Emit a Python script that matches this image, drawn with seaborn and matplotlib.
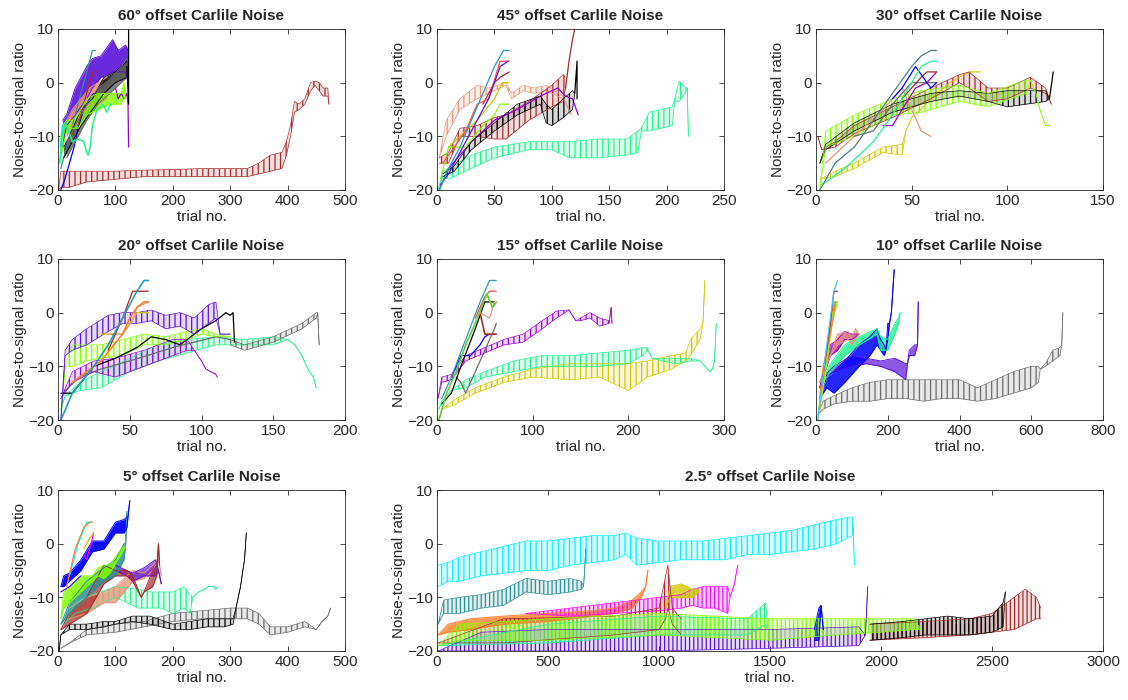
import matplotlib
matplotlib.use("Agg")
import matplotlib.pyplot as plt
import seaborn as sns

# ---------------- data ----------------
# 60 deg
p60_brown_x = [1, 5, 20, 50, 100, 150, 200, 250, 300, 330, 350, 370, 390, 398, 405, 412, 420, 430, 440, 448, 455, 462, 470, 472]
p60_brown_lo = [-20, -19.5, -19.5, -18.5, -18, -17.5, -17.5, -17.5, -17.5, -17.5, -17, -16.5, -16, -13.5, -10, -5.5, -5, -4, -1.5, -0.5, -1.5, -2.5, -2.5, -4]
p60_brown_hi = [-20, -16.5, -16.5, -16.5, -16.5, -16.3, -16.2, -16, -16, -16, -15, -13.5, -13, -11, -8, -3.5, -4, -3, 0, 0.3, 0, -1, -1, -4]
p60_violet_x = [8, 15, 30, 50, 60, 75, 95, 105, 118, 122]
p60_violet_lo = [-12, -8, -6, -3, -1, 1, 2, 2, 2, 0]
p60_violet_hi = [-7, -6, -1, 3, 4.5, 5, 8, 6, 7, 6]
p60_black_x = [10, 20, 40, 60, 80, 100, 120]
p60_black_lo = [-14, -12, -8, -5, -2, 0, 1]
p60_black_hi = [-12, -10, -5, -3, 1, 2, 4]
p60_blackv_x = [120, 123, 123]
p60_blackv_y = [3, -4, 10]
p60_gray_x = [15, 30, 50, 70, 90, 110, 120]
p60_gray_lo = [-14, -11, -7, -4, -2, 0, 1]
p60_gray_hi = [-11, -8, -4, -1, 0.5, 3, 4.5]
p60_salmon_x = [15, 25, 40, 55, 70, 85]
p60_salmon_lo = [-10, -8, -6, -4, -4, -3]
p60_salmon_hi = [-7, -5, -3, -1, 0, 1]
p60_lime_x = [3, 8, 15, 25, 35, 50, 70, 90, 110, 115, 117]
p60_lime_lo = [-15, -12, -9, -8.5, -8.5, -6, -5, -4, -4, -2, -3]
p60_lime_hi = [-11, -8, -7, -7, -6, -3, -2, -2, -2, 0, -3]
p60_spring_x = [3, 8, 15, 25, 35, 45, 50, 53, 56, 60, 68, 78, 85, 92]
p60_spring_y = [-15, -9, -8, -11, -10.5, -11, -13, -13.5, -12, -8, -5, -4, -5.5, -4]
p60_blue_x = [5, 12, 20, 28, 36, 45, 55, 62]
p60_blue_y = [-20, -18, -15, -12, -8, -5, -3, -2]
p60_teal_x = [5, 15, 25, 35, 45, 55, 60, 65]
p60_teal_y = [-16, -12, -8, -4, 0, 4, 6, 6]
p60_purple_x = [100, 105, 110, 115, 120, 122, 123]
p60_purple_y = [-1, -3, -2, -3, -2, -4, -12]
p60_red_x = [35, 45, 55, 62, 68]
p60_red_y = [-8, -4, 0, 2, 2]
p60_cyan_x = [4, 8, 12]
p60_cyan_y = [-12, -8, -7.5]

# 45 deg
p45_spring_x = [1, 5, 10, 30, 50, 80, 100, 115, 140, 165, 175, 178, 185, 205, 207, 211, 216, 218, 219]
p45_spring_lo = [-20, -17.5, -18, -16, -14, -12.5, -12.5, -14, -14, -13.5, -13, -9, -9, -8, -3.5, -3.5, -2, -1, -10]
p45_spring_hi = [-20, -16.5, -16, -13.5, -12, -11, -11, -11, -10.5, -10.5, -9, -8.5, -5.5, -4.5, -3, 0.3, -0.8, -1, -10]
p45_brown_x = [2, 10, 20, 35, 50, 60, 80, 100, 110, 112]
p45_brown_lo = [-15, -15, -10, -10, -10.5, -10.5, -7, -4.5, -3.5, -1]
p45_brown_hi = [-14, -13, -8.5, -8, -6.5, -6, -3.5, -0.5, 1.5, 1]
p45_brownup_x = [112, 115, 118, 120]
p45_brownup_y = [-1, 4, 8, 10]
p45_black_x = [5, 15, 30, 50, 70, 90, 95, 100, 110, 118, 120]
p45_black_lo = [-17.5, -16.5, -12.5, -9, -6, -4, -7.5, -8, -6.5, -5, -2]
p45_black_hi = [-17, -15.5, -11, -7.5, -4, -2.5, -4, -5, -3, -1.5, -2]
p45_blackup_x = [120, 122, 122]
p45_blackup_y = [-2, 4, -3]
p45_salmon_x = [2, 8, 20, 35, 45, 60, 65, 75, 85, 95, 110, 117]
p45_salmon_lo = [-14, -10, -5, -3, -2, -0.5, -3, -1.5, -2, -1.5, -3, -6]
p45_salmon_hi = [-14, -7, -3, -0.5, -1, 0, -2, -0.5, -1, -0.5, -2.5, -6]
p45_teal_x = [2, 10, 20, 30, 40, 50, 58, 63]
p45_teal_y = [-20, -16, -12, -7, -2, 3, 6, 6]
p45_blue_x = [3, 10, 20, 30, 45, 55, 62]
p45_blue_y = [-19, -17, -13, -9, -3, 3, 4]
p45_red_x = [5, 15, 25, 35, 45, 55, 63]
p45_red_y = [-15, -12, -9, -4, -3, 4, 4]
p45_darkred_x = [40, 50, 55, 63]
p45_darkred_y = [-4, 0, 1, 2]
p45_olive_x = [10, 20, 35, 50, 57, 63]
p45_olive_y = [-12, -10, -7, -3, 0, 0]
p45_lime_x = [3, 10, 25, 40, 50, 55, 63]
p45_lime_y = [-18, -12, -12, -8, -6, -4, -4]
p45_purple_x = [2, 10, 30, 50, 70, 90, 105, 112, 118, 123]
p45_purple_y = [-20, -16, -11, -7, -5, -2.5, -1, -2.5, -3, -6]

# 30 deg
p30_brown_x = [1, 3, 10, 20, 40, 60, 75, 80, 90, 100, 112, 120, 123]
p30_brown_lo = [-10, -12.5, -12, -9.5, -6.5, -3, 0, -1, -3.5, -3, -1, -2, -4]
p30_brown_hi = [-10, -12.5, -11, -8, -4.5, -1, 1.5, 2, -1, -1, 1, -1, -4]
p30_lime_x = [2, 5, 20, 40, 55, 75, 90, 110, 112, 115, 117, 120, 122]
p30_lime_lo = [-20, -12, -10, -6, -5.5, -3.5, -4.5, -2, 0.5, -2, -5, -8, -8]
p30_lime_hi = [-20, -9, -6, -3, -1.5, -0.5, -2, 0.5, 0.5, -2, -5, -8, -8]
p30_black_x = [2, 5, 20, 40, 60, 75, 90, 100, 120, 122]
p30_black_lo = [-15, -12.5, -9, -5.5, -3.5, -2.5, -3.5, -4.5, -3.5, -3]
p30_black_hi = [-15, -11.5, -7.5, -4, -2, -1.5, -2, -1.5, -1.5, -3]
p30_blackup_x = [122, 124]
p30_blackup_y = [-3, 2]
p30_yellow_x = [2, 10, 20, 35, 45, 47, 50, 55, 60, 70, 80, 86]
p30_yellow_lo = [-18, -17.5, -16, -13, -13.5, -9, -6.5, -5, -3, 0, 2, 2]
p30_yellow_hi = [-18, -16.5, -15, -12, -11.5, -9, -6.5, -5, -3, 0, 2, 2]
p30_grayteal_x = [2, 10, 20, 30, 40, 50, 55, 60, 63]
p30_grayteal_y = [-20, -15, -12, -7, -2, 3, 5, 6, 6]
p30_spring_x = [3, 15, 30, 40, 50, 55, 60, 63]
p30_spring_y = [-19, -16, -11, -6, 0, 3, 4, 4]
p30_blue_x = [40, 45, 52, 56, 60, 63]
p30_blue_y = [-3, -1, 3, 1, -1, 0]
p30_darkred_x = [45, 55, 58, 63]
p30_darkred_y = [-3, 1, 2, 2]
p30_purple_x = [35, 40, 45, 52, 58, 63]
p30_purple_y = [-8, -8, -5, -1, 0, 2]
p30_salmon_x = [5, 20, 35, 45, 50, 55, 60]
p30_salmon_y = [-15, -10, -5, -1, -5, -9, -10]
p30_gray_x = [20, 30, 40, 50, 63]
p30_gray_y = [-10, -9, -4, 0, 0]

# 20 deg
p20_violet_x = [2, 5, 10, 20, 35, 45, 55, 65, 75, 85, 95, 105, 110, 113, 120]
p20_violet_lo = [-20, -8, -7, -6, -3.5, -2, -2, -1.5, -3, -2.5, -4, -2, -1, -4, -4]
p20_violet_hi = [-20, -7, -5, -3, -0.5, 0, 0, 0.5, -0.5, 0, -1, 1.5, 2, -4, -4]
p20_black_x = [2, 10, 25, 40, 55, 65, 75, 85, 100, 110, 117, 120, 122, 123]
p20_black_y = [-15, -15, -10, -8.5, -6.5, -4.5, -5, -6, -3, -1.5, 0, -0.5, 0, -5.5]
p20_gray_x = [120, 130, 150, 170, 180, 181, 182]
p20_gray_lo = [-6, -7, -5.5, -3, -1, 0, -6]
p20_gray_hi = [-5, -6, -4.5, -2, 0, 0, -6]
p20_gray2_x = [3, 15, 30, 50, 80, 110, 120]
p20_gray2_y = [-15, -12, -10.5, -9, -6.5, -4.5, -5]
p20_spring_x = [2, 5, 15, 30, 50, 70, 90, 110, 130, 150, 160, 165, 170, 175, 178, 180]
p20_spring_lo = [-18, -15.5, -14.5, -14, -11, -9, -7.5, -6, -6, -6, -5, -6, -8, -11, -12, -14]
p20_spring_hi = [-18, -15.5, -13, -11, -8.5, -6, -5, -4.5, -5, -4.5, -5, -6, -8, -11, -12, -14]
p20_lime_x = [2, 5, 10, 20, 30, 45, 60, 75, 90, 100, 110, 120]
p20_lime_lo = [-20, -10, -10, -9, -8.5, -8, -6, -6, -5, -4, -4.5, -4.5]
p20_lime_hi = [-20, -10, -6, -6, -6, -5, -4, -4.5, -3.5, -3, -4, -4.5]
p20_purple_x = [2, 10, 25, 40, 60, 80, 90, 95, 100, 103, 110, 111]
p20_purple_lo = [-16, -13, -11, -12, -10, -8, -7, -7, -9, -10.5, -11.5, -12]
p20_purple_hi = [-16, -11, -9, -8.5, -7, -5, -5, -7, -9, -10.5, -11.5, -12]
p20_steel_x = [2, 10, 25, 35, 45, 55, 60, 63]
p20_steel_y = [-20, -15, -10, -6, -1, 4, 6, 6]
p20_orange_x = [10, 20, 30, 45, 50, 55, 60, 63]
p20_orange_y = [-13, -11, -9, -4, -1, 1, 2, 2]
p20_brown_x = [35, 45, 52, 63]
p20_brown_y = [-7, -1, 4, 4]
p20_salmon_x = [35, 45, 52, 55, 63]
p20_salmon_y = [-4, -4, -1.5, 1, 2]
p20_yellow_x = [30, 45, 55, 63]
p20_yellow_y = [-4, -4, 0, 0]

# 15 deg
p15_purple_x = [1, 5, 15, 30, 50, 70, 90, 110, 125, 138, 145, 150, 160, 170, 180, 182, 183]
p15_purple_lo = [-16, -13, -12.5, -9, -7.5, -6, -5.5, -3, -1, 0.5, -1.5, -1.5, -1, -2.5, -2, 1, -2]
p15_purple_hi = [-16, -12, -11.5, -8, -6.5, -5, -4, -1.5, 0.3, 0.5, -1.5, -1, 0, -1, -1.5, 1, -2]
p15_spring_x = [2, 5, 15, 30, 50, 80, 110, 140, 170, 200, 215, 220, 225, 235, 250, 265, 275, 280, 285, 288, 290, 292]
p15_spring_lo = [-18, -16.5, -14.5, -14, -12, -11, -10, -10, -10, -9.5, -8, -7, -8.5, -9, -9.5, -9, -9, -10, -11, -10.5, -9, -2]
p15_spring_hi = [-18, -16.5, -14.5, -12.5, -11, -9, -8, -8, -7.5, -7, -6.5, -6.5, -8.5, -8.5, -8.5, -8.5, -9, -10, -11, -10.5, -9, -2]
p15_yellow_x = [2, 5, 20, 40, 70, 100, 140, 170, 200, 220, 245, 260, 265, 275, 278, 280]
p15_yellow_lo = [-20, -18, -17, -15, -13, -12, -12.5, -12, -14.5, -12, -10.5, -9, -8, -5, -2, 6]
p15_yellow_hi = [-20, -18, -16, -14, -12, -10.5, -9.5, -9.5, -9.5, -9, -8, -7.5, -5, -3, -2, 6]
p15_green_x = [2, 10, 20, 30, 40, 52, 58, 62]
p15_green_y = [-20, -15, -11, -6, -2, 3.5, 1, 2]
p15_teal_x = [5, 15, 30, 45, 55, 62]
p15_teal_y = [-16, -12, -5, 2, 6, 6]
p15_salmon_x = [40, 50, 55, 62]
p15_salmon_y = [-1, 3, 4, 4]
p15_black_x = [5, 15, 25, 40, 50, 55, 60]
p15_black_y = [-17, -15, -10, -3, 2, 2, 2]
p15_blue_x = [15, 25, 35, 45, 50, 55]
p15_blue_y = [-12, -8, -8, -6, -4.5, -4]
p15_gray_x = [20, 25, 30, 40, 50, 60, 62]
p15_gray_y = [-12, -13, -15, -11, -7, -3, -2]
p15_brown_x = [45, 50, 55, 62]
p15_brown_y = [0, -4, -4, -4]
p15_lsalmon_x = [45, 55, 60]
p15_lsalmon_y = [0, -1, 2]

# 10 deg
p10_gray_x = [5, 20, 50, 100, 150, 200, 250, 300, 350, 400, 450, 500, 550, 600, 620, 625, 640, 660, 680, 685, 688]
p10_gray_lo = [-19, -18, -17, -16.5, -16.5, -16, -16, -16.5, -16, -16, -16.5, -16, -15, -14, -13, -10.5, -10, -9, -8, -6, 0]
p10_gray_hi = [-19, -16.5, -15.5, -14, -13, -12.5, -12.5, -12.5, -12.5, -12.5, -14, -12.5, -11, -10, -10, -10.5, -9.5, -7, -6.5, -6, 0]
p10_blue_x = [10, 30, 50, 80, 120, 150, 170, 180, 190, 195, 200, 205, 210, 215, 218]
p10_blue_lo = [-16, -14, -15, -13, -10, -8, -6, -7, -8, -7, -5, -2, 0, 5, 8]
p10_blue_hi = [-16, -12, -11, -9, -6, -4.5, -3, -5, -6, -7, -2, -2, 0, 5, 8]
p10_violet_x = [20, 50, 100, 140, 180, 220, 250, 255, 260, 275, 283, 285]
p10_violet_lo = [-12, -11, -10, -9.5, -10, -11, -12.5, -9.5, -8, -8, -6, 2]
p10_violet_hi = [-12, -10, -8, -8.5, -9, -8.5, -9.5, -9.5, -7, -6, -6, 2]
p10_spring_x = [10, 40, 80, 120, 170, 180, 200, 220, 230, 235]
p10_spring_lo = [-14, -11, -8, -6, -4, -7, -7, -4, -2, 0]
p10_spring_hi = [-14, -9.5, -6, -4.5, -3, -4.5, -5, -2, -1, 0]
p10_salmon_x = [10, 40, 60, 90, 100, 110, 120]
p10_salmon_lo = [-13, -8, -6, -5, -6, -5, -4]
p10_salmon_hi = [-13, -8, -4, -3.5, -4.5, -3, -4]
p10_purple_x = [10, 40, 60, 80, 100, 120]
p10_purple_lo = [-14, -8, -7, -5, -5, -4]
p10_purple_hi = [-14, -6, -5, -3.5, -4, -4]
p10_cyan_x = [5, 30, 50, 60]
p10_cyan_y = [-20, -6, 4, 6]
p10_brown_x = [15, 40, 50, 60]
p10_brown_y = [-14, -2, 4, 4]
p10_orange_x = [10, 20, 40, 55]
p10_orange_y = [-16, -10, -4, 2]
p10_yellow_x = [10, 30, 50, 60]
p10_yellow_y = [-18, -8, 2, 2]
p10_teal_x = [8, 25, 45, 55]
p10_teal_y = [-18, -10, 0, 2]
p10_lime_x = [5, 25, 45, 60]
p10_lime_y = [-20, -12, -2, 2]

# 5 deg
p5_gray_x = [5, 20, 50, 100, 150, 200, 250, 300, 330, 350, 370, 400, 430, 450, 460, 470, 475]
p5_gray_lo = [-19.5, -18.5, -17, -16.5, -15.5, -14.5, -14, -14, -14, -15, -17, -16.5, -15.5, -16, -14.5, -13.5, -12]
p5_gray_hi = [-19.5, -18.5, -16, -15, -14.5, -13, -12.5, -12, -12, -13, -15.5, -15.5, -14.5, -16, -14.5, -13.5, -12]
p5_black_x = [2, 5, 20, 50, 80, 100, 130, 160, 200, 230, 260, 290, 305, 310, 318, 322, 325, 328]
p5_black_lo = [-20, -17, -16, -16, -15.5, -15, -14.5, -15, -16, -16, -15.5, -15.5, -15, -12, -8, -5, -3, 2]
p5_black_hi = [-20, -17, -15, -15, -14.5, -14.5, -13.5, -13.5, -15, -14.5, -14, -14, -14, -12, -8, -5, -3, 2]
p5_spring_x = [10, 30, 60, 100, 140, 160, 180, 200, 220, 230, 235, 245, 255, 262, 270, 275, 278]
p5_spring_lo = [-15, -13, -12, -10, -12, -12, -12, -13, -12, -13, -10, -9, -8.5, -8, -8, -8.5, -8]
p5_spring_hi = [-15, -11, -9.5, -8, -8.5, -9, -9, -9, -8, -9.5, -10, -9, -8.5, -8, -8, -8.5, -8]
p5_salmon_x = [20, 50, 80, 100, 130, 150, 165, 175, 180]
p5_salmon_lo = [-14, -13, -11, -11, -7, -6.5, -5, -3, -6]
p5_salmon_hi = [-12, -10, -9, -8, -5, -5.5, -4, -3, -6]
p5_brown_x = [5, 20, 50, 80, 100, 120, 130, 145, 150, 165, 172, 175, 177]
p5_brown_lo = [-16, -15, -13, -7.5, -6, -6, -7, -10, -9, -8, -6, 0, -4]
p5_brown_hi = [-16, -13, -10, -4, -5, -5, -6, -10, -9, -5, -4, 0, -4]
p5_violet_x = [100, 110, 120, 130, 150, 170, 175, 180]
p5_violet_lo = [-5, -5.5, -6, -7, -6, -6, -5, -7.5]
p5_violet_hi = [-4, -4.5, -5, -5.5, -4.5, -3, -5, -7.5]
p5_teal_x = [5, 20, 50, 80, 100, 115, 118, 120]
p5_teal_lo = [-15, -13, -10, -7, -6, -3, 0, 6]
p5_teal_hi = [-15, -11, -7, -4.5, -3, 0, 0, 6]
p5_lime_x = [5, 10, 20, 30, 40, 50, 60, 70, 80, 90, 110, 118]
p5_lime_lo = [-14, -12, -11, -10, -9, -8, -7, -6, -6.5, -5.5, -2, -0.5]
p5_lime_hi = [-14, -9, -8, -7, -6, -6, -6, -4.5, -4, -4, -1, -0.5]
p5_blue_x = [5, 10, 20, 40, 60, 80, 100, 115, 120, 122, 125]
p5_blue_lo = [-8, -8, -7, -5, -1.5, -1, 2, 2, 3, 5, 8]
p5_blue_hi = [-8, -6, -5.5, -3, 0.5, 0.5, 4, 4.5, 5, 5, 8]
p5_orange_x = [15, 30, 45, 55, 60]
p5_orange_y = [-8, -1, 3, 4, 4]
p5_cyan_x = [20, 35, 50, 58]
p5_cyan_y = [-6, 0, 4, 4]
p5_magenta_x = [45, 50, 55, 60, 62]
p5_magenta_y = [-2, -3, -1, 1, 2]
p5_yellow_x = [45, 55, 62]
p5_yellow_y = [-1, 1, 2]
p5_violet2_x = [5, 20, 40]
p5_violet2_y = [-9, -8, -6]

# 2.5 deg
p25_cyan_x = [5, 50, 100, 200, 300, 400, 500, 600, 700, 800, 850, 900, 1000, 1100, 1200, 1300, 1400, 1500, 1600, 1700, 1800, 1870, 1875, 1880]
p25_cyan_lo = [-8, -7, -7, -6, -5.5, -5, -5, -4, -3.5, -3, -2, -4, -3.5, -3, -3, -3, -2, -2, -1.5, -1, 0, 1.5, 3, -4]
p25_cyan_hi = [-4, -3.5, -2.5, -1.5, -0.5, 0.5, 0.5, 1, 1.5, 1.5, 2, 1, 0.5, 0.5, 0.5, 1, 1.5, 2, 2.5, 3.5, 4.5, 5, 3, -4]
p25_lime_x = [5, 100, 500, 1000, 1500, 1800, 2000, 2150, 2180]
p25_lime_lo = [-19, -18, -18, -17, -18, -17, -16.5, -16, -16]
p25_lime_hi = [-19, -15, -14, -13, -14, -14, -14, -14, -16]
p25_green_x = [5, 500, 1000, 1400, 1480, 1490]
p25_green_lo = [-19, -18.5, -17, -17, -15, -16]
p25_green_hi = [-19, -15, -13.5, -14, -11, -16]
p25_violet_x = [5, 200, 500, 1000, 1500, 1900, 1930, 1940]
p25_violet_lo = [-20, -20, -20, -20, -19.5, -19, -17, -8]
p25_violet_hi = [-20, -16.5, -16, -16, -16, -15.5, -17, -8]
p25_brown_x = [5, 300, 800, 1000, 1030, 1040, 1060, 1100]
p25_brown_lo = [-18.5, -18.5, -17, -16, -14, -12, -15, -17]
p25_brown_hi = [-18.5, -14, -13.5, -12, -6, -4, -12, -14]
p25_brown2_x = [1950, 2200, 2400, 2500, 2600, 2650, 2700, 2720]
p25_brown2_lo = [-18, -17.5, -17, -16.5, -16, -15, -14, -14]
p25_brown2_hi = [-15, -14.5, -14, -13, -10, -8.5, -10, -12]
p25_black_x = [1950, 2100, 2200, 2300, 2400, 2500, 2550, 2560]
p25_black_lo = [-18, -17.5, -17, -17, -17, -16.5, -15.5, -9]
p25_black_hi = [-15, -14.5, -14, -13.5, -14, -13.5, -11, -9]
p25_orange_x = [5, 50, 150, 300, 500, 700, 800, 880, 920, 940, 950]
p25_orange_lo = [-17, -16.5, -16, -15, -14.5, -13.5, -13, -12, -10, -8, -5]
p25_orange_hi = [-17, -15, -14, -13.5, -13, -12.5, -12, -10.5, -9, -8, -5]
p25_magenta_x = [400, 600, 800, 1000, 1100, 1150, 1200, 1250, 1310, 1320, 1340, 1350, 1355]
p25_magenta_lo = [-13, -13.5, -13, -12.5, -12, -11.5, -12, -12, -13, -10, -7.5, -5, -4]
p25_magenta_hi = [-13, -12, -11, -10, -9.5, -8.5, -8, -8, -8, -10, -7.5, -5, -4]
p25_teal_x = [5, 30, 100, 200, 300, 400, 500, 600, 650, 660, 665, 670]
p25_teal_lo = [-15, -13, -13, -12, -11.5, -9, -9.5, -9, -8.5, -8, -5, -1]
p25_teal_hi = [-15, -10.5, -10, -9.5, -8.5, -6.5, -7, -6.5, -7, -8, -5, -1]
p25_yellow_x = [1030, 1050, 1100, 1150, 1180]
p25_yellow_lo = [-12, -10, -10, -10, -9]
p25_yellow_hi = [-12, -8, -7.5, -8.5, -8.5]
p25_blue_x = [1700, 1720, 1730, 1740]
p25_blue_lo = [-18, -18, -11.5, -16]
p25_blue_hi = [-16, -12, -11.5, -16]

y_ticks = [-20, -10, 0, 10]

# ---------------- styles ----------------
BROWN = "#a52a2a"
VIOLET = "#5b12d9"
PURPLE = "#9a00d6"
BLACK = "#000000"
GRAY = "#6b6b6b"
SALMON = "#e9967a"
LIME = "#80ff00"
SPRING = "#1cf58c"
TEAL = "#2e8f95"
STEEL = "#2a9bc0"
CYAN = "#00f2ff"
BLUE = "#0000ff"
ORANGE = "#ff7f2a"
MAGENTA = "#ff00ff"
YELLOW = "#d2c800"
RED = "#ff4c4c"
GREEN = "#66cc33"
OLIVE = "#b5d000"

sns.set_theme(style="ticks")
plt.rcParams["font.family"] = ["Liberation Sans", "DejaVu Sans"]
plt.rcParams.update({
    "xtick.direction": "in", "ytick.direction": "in",
    "xtick.top": True, "ytick.right": True,
    "xtick.major.size": 3.5, "ytick.major.size": 3.5,
    "xtick.major.width": 0.6, "ytick.major.width": 0.6,
    "axes.linewidth": 0.6, "axes.edgecolor": "#262626",
    "xtick.color": "#262626", "ytick.color": "#262626",
    "hatch.linewidth": 0.9,
})

fig = plt.figure(figsize=(11.28, 7.0), dpi=100)


def band(ax, x, lo, hi, c, a=0.55, lw=0.7, hatch=None):
    """Band of a dense staircase trace: filled between read lower/upper envelopes.
    With hatch, the fill is light and vertical strokes mimic the zig-zag."""
    if hatch:
        ax.fill_between(x, lo, hi, color=c, alpha=0.15, lw=0)
        ax.fill_between(x, lo, hi, facecolor="none", edgecolor=c, hatch=hatch, lw=0)
        lw = 0.5
    else:
        ax.fill_between(x, lo, hi, color=c, alpha=a, lw=0)
    sns.lineplot(x=x, y=lo, ax=ax, color=c, lw=lw, sort=False, estimator=None, legend=False)
    sns.lineplot(x=x, y=hi, ax=ax, color=c, lw=lw, sort=False, estimator=None, legend=False)


def line(ax, x, y, c, lw=0.9):
    sns.lineplot(x=x, y=y, ax=ax, color=c, lw=lw, sort=False, estimator=None, legend=False)


def style(ax, title, xmax, xstep):
    ax.set_xlim(0, xmax)
    ax.set_ylim(-20, 10)
    ax.set_xticks(list(range(0, xmax + 1, xstep)))
    ax.set_yticks(y_ticks)
    ax.tick_params(labelsize=11, pad=3)
    ax.set_title(title, fontsize=11, fontweight="bold", pad=6.5)
    ax.set_xlabel("trial no.", fontsize=11, labelpad=1)
    ax.set_ylabel("Noise-to-signal ratio", fontsize=11, labelpad=1)
    for s in ax.spines.values():
        s.set_visible(True)


L1, L2, L3 = 58 / 1128, 437 / 1128, 816 / 1128
W = 287 / 1128
H = 161 / 700
B1, B2, B3 = 1 - 190 / 700, 1 - 420 / 700, 1 - 651 / 700
HZ = "|||"

# ---- 60 deg
ax = fig.add_axes([L1, B1, W, H])
band(ax, p60_brown_x, p60_brown_lo, p60_brown_hi, BROWN, hatch=HZ)
band(ax, p60_violet_x, p60_violet_lo, p60_violet_hi, VIOLET, a=0.9)
line(ax, p60_teal_x, p60_teal_y, TEAL)
line(ax, p60_blue_x, p60_blue_y, BLUE)
band(ax, p60_salmon_x, p60_salmon_lo, p60_salmon_hi, SALMON, a=0.9)
band(ax, p60_black_x, p60_black_lo, p60_black_hi, BLACK, a=0.8)
band(ax, p60_gray_x, p60_gray_lo, p60_gray_hi, GRAY, a=0.8)
line(ax, p60_red_x, p60_red_y, BROWN)
line(ax, p60_purple_x, p60_purple_y, PURPLE)
band(ax, p60_lime_x, p60_lime_lo, p60_lime_hi, LIME, a=0.8)
line(ax, p60_spring_x, p60_spring_y, SPRING, lw=1.1)
line(ax, p60_cyan_x, p60_cyan_y, CYAN)
line(ax, p60_blackv_x, p60_blackv_y, BLACK, lw=0.9)
style(ax, "60° offset Carlile Noise", 500, 100)

# ---- 45 deg
ax = fig.add_axes([L2, B1, W, H])
band(ax, p45_spring_x, p45_spring_lo, p45_spring_hi, SPRING, hatch=HZ)
band(ax, p45_salmon_x, p45_salmon_lo, p45_salmon_hi, SALMON, hatch=HZ)
band(ax, p45_brown_x, p45_brown_lo, p45_brown_hi, BROWN, hatch=HZ)
line(ax, p45_brownup_x, p45_brownup_y, BROWN)
line(ax, p45_purple_x, p45_purple_y, PURPLE)
band(ax, p45_black_x, p45_black_lo, p45_black_hi, BLACK, hatch=HZ)
line(ax, p45_blackup_x, p45_blackup_y, BLACK)
line(ax, p45_lime_x, p45_lime_y, LIME)
line(ax, p45_olive_x, p45_olive_y, OLIVE)
line(ax, p45_darkred_x, p45_darkred_y, BROWN)
line(ax, p45_red_x, p45_red_y, RED)
line(ax, p45_blue_x, p45_blue_y, VIOLET)
line(ax, p45_teal_x, p45_teal_y, STEEL)
style(ax, "45° offset Carlile Noise", 250, 50)

# ---- 30 deg
ax = fig.add_axes([L3, B1, W, H])
band(ax, p30_yellow_x, p30_yellow_lo, p30_yellow_hi, YELLOW, hatch=HZ)
band(ax, p30_brown_x, p30_brown_lo, p30_brown_hi, BROWN, hatch=HZ)
band(ax, p30_black_x, p30_black_lo, p30_black_hi, BLACK, hatch=HZ)
line(ax, p30_blackup_x, p30_blackup_y, BLACK)
band(ax, p30_lime_x, p30_lime_lo, p30_lime_hi, LIME, hatch=HZ)
line(ax, p30_salmon_x, p30_salmon_y, SALMON)
line(ax, p30_gray_x, p30_gray_y, GRAY)
line(ax, p30_purple_x, p30_purple_y, PURPLE)
line(ax, p30_darkred_x, p30_darkred_y, BROWN)
line(ax, p30_blue_x, p30_blue_y, BLUE)
line(ax, p30_spring_x, p30_spring_y, SPRING)
line(ax, p30_grayteal_x, p30_grayteal_y, "#4f7f7f")
style(ax, "30° offset Carlile Noise", 150, 50)

# ---- 20 deg
ax = fig.add_axes([L1, B2, W, H])
band(ax, p20_spring_x, p20_spring_lo, p20_spring_hi, SPRING, hatch=HZ)
band(ax, p20_gray_x, p20_gray_lo, p20_gray_hi, GRAY, hatch=HZ)
line(ax, p20_gray2_x, p20_gray2_y, GRAY)
band(ax, p20_purple_x, p20_purple_lo, p20_purple_hi, PURPLE, hatch=HZ)
band(ax, p20_lime_x, p20_lime_lo, p20_lime_hi, LIME, hatch=HZ)
line(ax, p20_black_x, p20_black_y, BLACK)
band(ax, p20_violet_x, p20_violet_lo, p20_violet_hi, VIOLET, hatch=HZ)
line(ax, p20_yellow_x, p20_yellow_y, YELLOW)
line(ax, p20_salmon_x, p20_salmon_y, SALMON)
line(ax, p20_brown_x, p20_brown_y, BROWN)
line(ax, p20_orange_x, p20_orange_y, ORANGE, lw=1.2)
line(ax, p20_steel_x, p20_steel_y, STEEL, lw=1.2)
style(ax, "20° offset Carlile Noise", 200, 50)

# ---- 15 deg
ax = fig.add_axes([L2, B2, W, H])
band(ax, p15_yellow_x, p15_yellow_lo, p15_yellow_hi, YELLOW, hatch=HZ)
band(ax, p15_spring_x, p15_spring_lo, p15_spring_hi, SPRING, hatch=HZ)
band(ax, p15_purple_x, p15_purple_lo, p15_purple_hi, PURPLE, hatch=HZ)
line(ax, p15_gray_x, p15_gray_y, GRAY)
line(ax, p15_blue_x, p15_blue_y, BLUE)
line(ax, p15_black_x, p15_black_y, BLACK)
line(ax, p15_brown_x, p15_brown_y, BROWN, lw=1.2)
line(ax, p15_lsalmon_x, p15_lsalmon_y, SALMON)
line(ax, p15_salmon_x, p15_salmon_y, RED)
line(ax, p15_teal_x, p15_teal_y, STEEL)
line(ax, p15_green_x, p15_green_y, GREEN, lw=1.2)
style(ax, "15° offset Carlile Noise", 300, 100)

# ---- 10 deg
ax = fig.add_axes([L3, B2, W, H])
band(ax, p10_gray_x, p10_gray_lo, p10_gray_hi, GRAY, hatch=HZ)
band(ax, p10_violet_x, p10_violet_lo, p10_violet_hi, VIOLET, a=0.7)
band(ax, p10_blue_x, p10_blue_lo, p10_blue_hi, BLUE, a=0.85)
band(ax, p10_spring_x, p10_spring_lo, p10_spring_hi, SPRING, a=0.8)
band(ax, p10_purple_x, p10_purple_lo, p10_purple_hi, PURPLE, a=0.8)
band(ax, p10_salmon_x, p10_salmon_lo, p10_salmon_hi, SALMON, a=0.8)
line(ax, p10_teal_x, p10_teal_y, TEAL)
line(ax, p10_lime_x, p10_lime_y, LIME)
line(ax, p10_yellow_x, p10_yellow_y, YELLOW)
line(ax, p10_orange_x, p10_orange_y, ORANGE)
line(ax, p10_brown_x, p10_brown_y, BROWN)
line(ax, p10_cyan_x, p10_cyan_y, "#3cc8ff")
style(ax, "10° offset Carlile Noise", 800, 200)

# ---- 5 deg
ax = fig.add_axes([L1, B3, W, H])
band(ax, p5_gray_x, p5_gray_lo, p5_gray_hi, GRAY, hatch=HZ)
band(ax, p5_black_x, p5_black_lo, p5_black_hi, BLACK, hatch=HZ)
band(ax, p5_spring_x, p5_spring_lo, p5_spring_hi, SPRING, hatch=HZ)
band(ax, p5_salmon_x, p5_salmon_lo, p5_salmon_hi, SALMON, a=0.8)
band(ax, p5_violet_x, p5_violet_lo, p5_violet_hi, VIOLET, a=0.7)
band(ax, p5_brown_x, p5_brown_lo, p5_brown_hi, BROWN, a=0.7)
band(ax, p5_teal_x, p5_teal_lo, p5_teal_hi, TEAL, a=0.85)
band(ax, p5_lime_x, p5_lime_lo, p5_lime_hi, LIME, a=0.85)
band(ax, p5_blue_x, p5_blue_lo, p5_blue_hi, BLUE, a=0.95)
line(ax, p5_violet2_x, p5_violet2_y, VIOLET)
line(ax, p5_magenta_x, p5_magenta_y, MAGENTA)
line(ax, p5_yellow_x, p5_yellow_y, YELLOW)
line(ax, p5_cyan_x, p5_cyan_y, CYAN)
line(ax, p5_orange_x, p5_orange_y, ORANGE)
style(ax, "5° offset Carlile Noise", 500, 100)

# ---- 2.5 deg
ax = fig.add_axes([L2, B3, (1103 - 437) / 1128, H])
band(ax, p25_teal_x, p25_teal_lo, p25_teal_hi, TEAL, hatch="||||")
band(ax, p25_orange_x, p25_orange_lo, p25_orange_hi, ORANGE, a=0.8)
band(ax, p25_magenta_x, p25_magenta_lo, p25_magenta_hi, MAGENTA, hatch="||||")
band(ax, p25_yellow_x, p25_yellow_lo, p25_yellow_hi, YELLOW, a=0.8)
band(ax, p25_brown_x, p25_brown_lo, p25_brown_hi, BROWN, hatch="||||")
band(ax, p25_violet_x, p25_violet_lo, p25_violet_hi, VIOLET, hatch="||||")
band(ax, p25_green_x, p25_green_lo, p25_green_hi, SPRING, hatch="||||")
band(ax, p25_brown2_x, p25_brown2_lo, p25_brown2_hi, BROWN, hatch="||||")
band(ax, p25_black_x, p25_black_lo, p25_black_hi, BLACK, hatch="||||")
band(ax, p25_blue_x, p25_blue_lo, p25_blue_hi, BLUE, a=0.8)
band(ax, p25_lime_x, p25_lime_lo, p25_lime_hi, LIME, hatch="||||")
band(ax, p25_cyan_x, p25_cyan_lo, p25_cyan_hi, CYAN, hatch="|||")
style(ax, "2.5° offset Carlile Noise", 3000, 500)

fig.savefig("out.png", dpi=100)
